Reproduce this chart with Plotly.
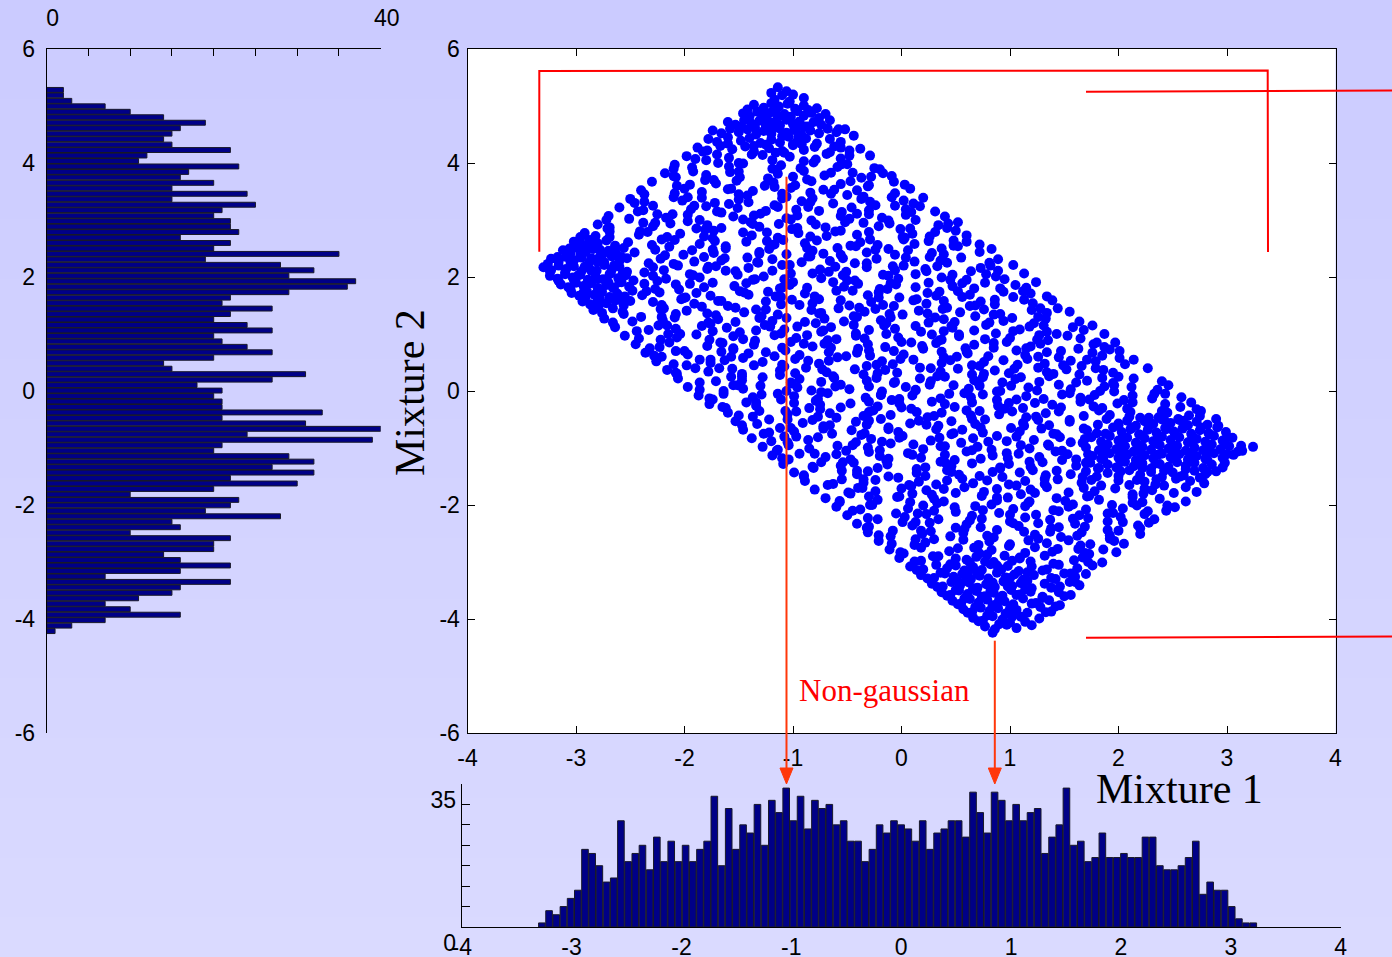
import plotly.graph_objects as go

W, H = 1392, 957


def fx(px):
    return px / W


def fy(py):
    return 1 - py / H


# ---- Histogram of mixture 1 (bottom panel): 100 equal bins ----
mix1_bin_start = -3.303
mix1_bin_width = 0.0654
mix1_counts = [
    1, 4, 3, 5, 7, 9, 19, 18, 15, 11,
    12, 26, 16, 18, 20, 14, 22, 16, 21, 16,
    20, 16, 19, 21, 32, 15, 29, 19, 25, 23,
    30, 20, 31, 28, 34, 26, 32, 24, 31, 29,
    30, 25, 26, 21, 21, 16, 19, 25, 23, 26,
    25, 24, 21, 26, 19, 23, 24, 26, 26, 22,
    33, 28, 23, 33, 31, 26, 30, 26, 28, 29,
    18, 22, 25, 34, 20, 21, 16, 17, 23, 17,
    17, 18, 17, 17, 22, 22, 15, 14, 14, 15,
    17, 21, 8, 11, 9, 9, 5, 2, 1, 1,
]

# ---- Histogram of mixture 2 (left panel): 100 equal bins, top bin first ----
mix2_bin_top = 5.33
mix2_bin_width = 0.0959
mix2_counts = [
    2, 2, 3, 7, 10, 14, 19, 16, 15, 14,
    15, 22, 12, 11, 23, 17, 16, 20, 15, 24,
    15, 25, 21, 20, 22, 22, 23, 16, 22, 20,
    35, 19, 28, 32, 29, 37, 36, 29, 22, 21,
    27, 22, 20, 24, 27, 20, 21, 24, 27, 20,
    14, 15, 31, 27, 18, 21, 20, 21, 21, 33,
    21, 31, 40, 24, 39, 21, 20, 29, 32, 27,
    32, 22, 30, 20, 10, 23, 22, 19, 28, 15,
    16, 10, 22, 20, 20, 14, 16, 22, 16, 7,
    22, 16, 15, 11, 7, 10, 16, 7, 3, 1,
]

# ---- Scatter of the two mixtures, listed band by band ----
mixture1_rows = [
    [-1.14, -1.06],
    [-1.17, -1.1, -1.03, -0.9],
    [-1.36, -1.27, -1.2, -1.13, -1.05, -0.98, -0.9, -0.78],
    [-1.46, -1.4, -1.33, -1.27, -1.2, -1.14, -1.08, -1.02, -0.96, -0.9, -0.83, -0.76, -0.7, -1.24, -1.05],
    [-1.6, -1.53, -1.45, -1.38, -1.31, -1.25, -1.18, -1.12, -1.06, -1.0, -0.94, -0.88, -0.81, -0.74, -0.66, -1.35, -1.15, -0.97, -0.85],
    [-1.74, -1.66, -1.58, -1.5, -1.42, -1.34, -1.27, -1.2, -1.13, -1.06, -0.99, -0.92, -0.84, -0.76, -0.68, -0.6, -0.52, -1.1, -0.95],
    [-1.78, -1.7, -1.6, -1.48, -1.4, -1.3, -1.2, -1.12, -1.04, -0.96, -0.88, -0.78, -0.66, -0.56, -0.44, -1.25, -1.0],
    [-1.88, -1.79, -1.67, -1.56, -1.44, -1.36, -1.22, -1.1, -1.0, -0.9, -0.8, -0.66, -0.56, -0.48, -0.38, -1.16],
    [-1.98, -1.9, -1.7, -1.59, -1.28, -1.19, -1.03, -0.79, -0.69, -0.56, -0.29],
    [-2.09, -1.93, -1.69, -1.59, -1.46, -1.19, -1.11, -0.93, -0.81, -0.59, -0.5, -0.2],
    [-2.18, -2.1, -1.92, -1.8, -1.58, -1.49, -1.14, -1.0, -0.9, -0.71, -0.45, -0.37, -0.17, -0.09],
    [-2.3, -1.95, -1.81, -1.71, -1.52, -1.26, -1.18, -0.98, -0.87, -0.56, -0.47, -0.31, -0.07, 0.03],
    [-2.4, -2.09, -2.0, -1.84, -1.6, -1.5, -1.37, -1.1, -1.02, -0.84, -0.72, -0.5, -0.41, -0.06, 0.08],
    [-2.5, -2.37, -2.1, -2.02, -1.84, -1.72, -1.5, -1.41, -1.06, -0.92, -0.82, -0.63, -0.37, -0.29, -0.09, 0.02, 0.2],
    [-2.6, -2.38, -2.29, -1.94, -1.8, -1.7, -1.51, -1.25, -1.17, -0.97, -0.86, -0.55, -0.46, -0.3, -0.06, 0.04, 0.17, 0.31],
    [-2.7, -2.51, -2.25, -2.17, -1.97, -1.86, -1.55, -1.46, -1.3, -1.06, -0.96, -0.83, -0.56, -0.48, -0.3, -0.18, 0.04, 0.13, 0.4],
    [-2.8, -2.69, -2.38, -2.29, -2.13, -1.89, -1.79, -1.66, -1.39, -1.31, -1.13, -1.01, -0.79, -0.7, -0.35, -0.21, -0.11, 0.08, 0.34, 0.42, 0.52],
    [-2.92, -2.82, -2.69, -2.42, -2.34, -2.16, -2.04, -1.82, -1.73, -1.38, -1.24, -1.14, -0.95, -0.69, -0.61, -0.41, -0.3, 0.01, 0.1, 0.26, 0.5, 0.6],
    [-3.02, -2.95, -2.88, -2.8, -2.72, -2.64, -2.52, -2.3, -2.21, -1.86, -1.72, -1.62, -1.43, -1.17, -1.09, -0.89, -0.78, -0.47, -0.38, -0.22, 0.02, 0.12, 0.25, 0.52, 0.6, 0.72],
    [-3.12, -3.05, -2.98, -2.91, -2.84, -2.77, -2.7, -2.63, -2.56, -2.46, -2.27, -2.01, -1.93, -1.73, -1.62, -1.31, -1.22, -1.06, -0.82, -0.72, -0.59, -0.32, -0.24, -0.06, 0.06, 0.28, 0.37, 0.72, 0.83],
    [-3.23, -3.16, -3.09, -3.02, -2.95, -2.88, -2.81, -2.74, -2.67, -2.6, -2.53, -2.33, -2.22, -1.91, -1.82, -1.66, -1.42, -1.32, -1.19, -0.92, -0.84, -0.66, -0.54, -0.32, -0.23, 0.12, 0.26, 0.36, 0.55, 0.81, 0.89],
    [-3.3, -3.23, -3.16, -3.09, -3.02, -2.95, -2.88, -2.81, -2.74, -2.67, -2.6, -2.53, -2.29, -2.19, -2.06, -1.79, -1.71, -1.53, -1.41, -1.19, -1.1, -0.75, -0.61, -0.51, -0.32, -0.06, 0.02, 0.22, 0.33, 0.64, 0.73, 0.89, 1.03],
    [-3.24, -3.17, -3.1, -3.03, -2.96, -2.89, -2.82, -2.75, -2.68, -2.61, -2.54, -2.47, -2.29, -2.17, -1.95, -1.86, -1.51, -1.37, -1.27, -1.08, -0.82, -0.74, -0.54, -0.43, -0.12, -0.03, 0.13, 0.37, 0.47, 0.6, 0.87, 0.95, 1.13],
    [-3.14, -3.07, -3.0, -2.93, -2.86, -2.79, -2.72, -2.65, -2.58, -2.51, -2.37, -2.27, -2.08, -1.82, -1.74, -1.54, -1.43, -1.12, -1.03, -0.87, -0.63, -0.53, -0.4, -0.13, -0.05, 0.13, 0.25, 0.47, 0.56, 0.91, 1.05, 1.15, 1.24],
    [-3.04, -2.97, -2.9, -2.83, -2.76, -2.69, -2.62, -2.55, -2.48, -2.39, -2.23, -1.99, -1.89, -1.76, -1.49, -1.41, -1.23, -1.11, -0.89, -0.8, -0.45, -0.31, -0.21, -0.02, 0.24, 0.32, 0.52, 0.63, 0.94, 1.03, 1.19, 1.34],
    [-2.94, -2.87, -2.8, -2.72, -2.64, -2.56, -2.29, -2.21, -2.03, -1.91, -1.69, -1.6, -1.25, -1.11, -1.01, -0.82, -0.56, -0.48, -0.28, -0.17, 0.14, 0.23, 0.39, 0.63, 0.73, 0.86, 1.13, 1.21, 1.39],
    [-2.84, -2.76, -2.66, -2.57, -2.22, -2.08, -1.98, -1.79, -1.53, -1.45, -1.25, -1.14, -0.83, -0.74, -0.58, -0.34, -0.24, -0.11, 0.16, 0.24, 0.42, 0.54, 0.76, 0.85, 1.2, 1.34, 1.44, 1.55],
    [-2.74, -2.48, -2.4, -2.2, -2.09, -1.78, -1.69, -1.53, -1.29, -1.19, -1.06, -0.79, -0.71, -0.53, -0.41, -0.19, -0.1, 0.25, 0.39, 0.49, 0.68, 0.94, 1.02, 1.22, 1.33, 1.64],
    [-2.64, -2.33, -2.24, -2.08, -1.84, -1.74, -1.61, -1.34, -1.26, -1.08, -0.96, -0.74, -0.65, -0.3, -0.16, -0.06, 0.13, 0.39, 0.47, 0.67, 0.78, 1.09, 1.18, 1.34, 1.58, 1.68, 1.76],
    [-2.55, -2.42, -2.15, -2.07, -1.89, -1.77, -1.55, -1.46, -1.11, -0.97, -0.87, -0.68, -0.42, -0.34, -0.14, -0.03, 0.28, 0.37, 0.53, 0.77, 0.87, 1.0, 1.27, 1.35, 1.53, 1.65, 1.87],
    [-2.45, -2.23, -2.14, -1.79, -1.65, -1.55, -1.36, -1.1, -1.02, -0.82, -0.71, -0.4, -0.31, -0.15, 0.09, 0.19, 0.32, 0.59, 0.67, 0.85, 0.97, 1.19, 1.28, 1.63, 1.77, 1.87, 1.97],
    [-2.36, -2.28, -2.08, -1.97, -1.66, -1.57, -1.41, -1.17, -1.07, -0.94, -0.67, -0.59, -0.41, -0.29, -0.07, 0.02, 0.37, 0.51, 0.61, 0.8, 1.06, 1.14, 1.34, 1.45, 1.76, 1.85, 2.01],
    [-2.26, -2.1, -1.86, -1.76, -1.63, -1.36, -1.28, -1.1, -0.98, -0.76, -0.67, -0.32, -0.18, -0.08, 0.11, 0.37, 0.45, 0.65, 0.76, 1.07, 1.16, 1.32, 1.56, 1.66, 1.79, 2.06, 2.14],
    [-2.16, -2.08, -1.9, -1.78, -1.56, -1.47, -1.12, -0.98, -0.88, -0.69, -0.43, -0.35, -0.15, -0.04, 0.27, 0.36, 0.52, 0.76, 0.86, 0.99, 1.26, 1.34, 1.52, 1.64, 1.86, 1.95, 2.27],
    [-2.06, -1.71, -1.57, -1.47, -1.28, -1.02, -0.94, -0.74, -0.63, -0.32, -0.23, -0.07, 0.17, 0.27, 0.4, 0.67, 0.75, 0.93, 1.05, 1.27, 1.36, 1.71, 1.85, 1.95, 2.14, 2.4],
    [-1.97, -1.86, -1.55, -1.46, -1.3, -1.06, -0.96, -0.83, -0.56, -0.48, -0.3, -0.18, 0.04, 0.13, 0.48, 0.62, 0.72, 0.91, 1.17, 1.25, 1.45, 1.56, 1.87, 1.96, 2.12, 2.36, 2.46],
    [-1.87, -1.77, -1.64, -1.37, -1.29, -1.11, -0.99, -0.77, -0.68, -0.33, -0.19, -0.09, 0.1, 0.36, 0.44, 0.64, 0.75, 1.06, 1.15, 1.31, 1.55, 1.65, 1.78, 2.05, 2.13, 2.31, 2.43, 2.58],
    [-1.77, -1.65, -1.43, -1.34, -0.99, -0.85, -0.75, -0.56, -0.3, -0.22, -0.02, 0.09, 0.4, 0.49, 0.65, 0.89, 0.99, 1.12, 1.39, 1.47, 1.65, 1.77, 1.99, 2.08, 2.43, 2.57, 2.67],
    [-1.6, -1.5, -1.31, -1.05, -0.97, -0.77, -0.66, -0.35, -0.26, -0.1, 0.14, 0.24, 0.37, 0.64, 0.72, 0.9, 1.02, 1.24, 1.33, 1.68, 1.82, 1.92, 2.11, 2.37, 2.45, 2.65, 2.76, 2.2, 2.55],
    [-1.53, -1.33, -1.22, -0.91, -0.82, -0.66, -0.42, -0.32, -0.19, 0.08, 0.16, 0.34, 0.46, 0.68, 0.77, 1.12, 1.26, 1.36, 1.55, 1.81, 1.89, 2.0, 2.08, 2.16, 2.24, 2.32, 2.4, 2.48, 2.56, 2.64, 2.72, 2.82, 2.9],
    [-1.46, -1.22, -1.12, -0.99, -0.72, -0.64, -0.46, -0.34, -0.12, -0.03, 0.32, 0.46, 0.56, 0.75, 1.01, 1.09, 1.29, 1.4, 1.71, 1.8, 1.95, 2.03, 2.11, 2.19, 2.27, 2.35, 2.43, 2.51, 2.59, 2.67, 2.75, 2.83, 2.91, 2.99],
    [-1.38, -1.2, -1.08, -0.86, -0.77, -0.42, -0.28, -0.18, 0.01, 0.27, 0.35, 0.55, 0.66, 0.97, 1.06, 1.22, 1.46, 1.56, 1.69, 1.84, 1.92, 2.0, 2.08, 2.16, 2.24, 2.32, 2.4, 2.48, 2.56, 2.64, 2.72, 2.8, 2.88, 2.96, 3.05],
    [-1.28, -1.14, -1.04, -0.85, -0.59, -0.51, -0.31, -0.2, 0.11, 0.2, 0.36, 0.6, 0.7, 0.83, 1.1, 1.18, 1.36, 1.48, 1.7, 1.82, 1.9, 1.98, 2.06, 2.14, 2.22, 2.3, 2.38, 2.46, 2.54, 2.62, 2.7, 2.78, 2.86, 2.94, 3.02, 3.1, 3.24],
    [-1.19, -1.1, -0.94, -0.7, -0.6, -0.47, -0.2, -0.12, 0.06, 0.18, 0.4, 0.49, 0.84, 0.98, 1.08, 1.27, 1.53, 1.61, 1.76, 1.84, 1.92, 2.0, 2.08, 2.16, 2.24, 2.32, 2.4, 2.48, 2.56, 2.64, 2.72, 2.8, 2.88, 2.96, 3.06],
    [-1.09, -0.82, -0.74, -0.56, -0.44, -0.22, -0.13, 0.22, 0.36, 0.46, 0.65, 0.91, 0.99, 1.19, 1.3, 1.61, 1.74, 1.82, 1.9, 1.98, 2.06, 2.14, 2.22, 2.3, 2.38, 2.46, 2.54, 2.62, 2.7, 2.78, 2.86, 2.96],
    [-0.99, -0.9, -0.55, -0.41, -0.31, -0.12, 0.14, 0.22, 0.42, 0.53, 0.84, 0.93, 1.09, 1.33, 1.43, 1.56, 1.7, 1.8, 1.9, 2.0, 2.1, 2.2, 2.3, 2.4, 2.5, 2.6, 2.7, 2.8, 2.9],
    [-0.89, -0.63, -0.55, -0.35, -0.24, 0.07, 0.16, 0.32, 0.56, 0.66, 0.79, 1.06, 1.14, 1.32, 1.44, 1.66, 1.75, 2.1, 2.24, 2.34, 2.53, 2.79, 2.0, 2.42, 2.66],
    [-0.8, -0.49, -0.4, -0.24, 0.0, 0.1, 0.23, 0.5, 0.58, 0.76, 0.88, 1.1, 1.19, 1.54, 1.68, 1.78, 1.97, 2.23, 2.31, 2.51, 2.62, 2.72],
    [-0.7, -0.57, -0.3, -0.22, -0.04, 0.08, 0.3, 0.39, 0.74, 0.88, 0.98, 1.17, 1.43, 1.51, 1.71, 1.82, 2.13, 2.22, 2.38, 2.62],
    [-0.6, -0.38, -0.29, 0.06, 0.2, 0.3, 0.49, 0.75, 0.83, 1.03, 1.14, 1.45, 1.54, 1.7, 1.94, 2.04, 2.17, 2.44, 2.52],
    [-0.5, -0.31, -0.05, 0.03, 0.23, 0.34, 0.65, 0.74, 0.9, 1.14, 1.24, 1.37, 1.64, 1.72, 1.9, 2.02, 2.24, 2.33],
    [-0.41, -0.3, 0.01, 0.1, 0.26, 0.5, 0.6, 0.73, 1.0, 1.08, 1.26, 1.38, 1.6, 1.69, 2.04, 2.18, 2.28],
    [-0.31, -0.21, -0.08, 0.19, 0.27, 0.45, 0.57, 0.79, 0.88, 1.23, 1.37, 1.47, 1.66, 1.92, 2.0, 2.2],
    [-0.21, -0.09, 0.13, 0.22, 0.57, 0.71, 0.81, 1.0, 1.26, 1.34, 1.54, 1.65, 1.96, 2.05],
    [-0.11, -0.01, 0.18, 0.44, 0.52, 0.72, 0.83, 1.14, 1.23, 1.39, 1.63, 1.73, 1.86, 1.98],
    [-0.02, 0.18, 0.29, 0.6, 0.69, 0.85, 1.09, 1.19, 1.32, 1.59, 1.67, 1.85, 0.5, 0.77, 0.95],
    [0.08, 0.2, 0.32, 0.42, 0.5, 0.58, 0.66, 0.74, 0.82, 0.9, 0.98, 1.08, 1.2, 1.34, 1.45, 1.62, 1.76],
    [0.18, 0.3, 0.4, 0.48, 0.56, 0.64, 0.72, 0.8, 0.88, 0.96, 1.04, 1.12, 1.22, 1.38, 1.5, 1.6, 1.7],
    [0.28, 0.38, 0.46, 0.54, 0.62, 0.7, 0.78, 0.86, 0.94, 1.02, 1.1, 1.2, 1.32, 1.46, 1.55, 1.64],
    [0.37, 0.45, 0.53, 0.61, 0.69, 0.77, 0.85, 0.93, 1.01, 1.09, 1.19, 1.3, 1.45, 1.56],
    [0.47, 0.55, 0.63, 0.71, 0.79, 0.87, 0.95, 1.03, 1.12, 1.24, 1.36, 1.46],
    [0.57, 0.65, 0.73, 0.81, 0.89, 0.97, 1.06, 1.16, 1.28, 1.38],
    [0.66, 0.75, 0.84, 0.93, 1.02, 1.14, 1.27],
    [0.77, 0.86, 0.97, 1.06],
    [0.84],
    # in-between bands
    [-1.2, -1.0],
    [-1.42, -1.16, -0.86],
    [-1.48, -1.2, -0.9, -0.58],
    [-1.6, -1.36, -0.92, -0.62],
    [-1.83, -1.38, -1.08, -0.48],
    [-1.8, -1.5, -0.9, -0.55],
    [-2.1, -1.5, -1.15, -0.65, -0.25],
    [-2.08, -1.73, -1.23, -0.83, -0.28],
    [-2.07, -1.57, -1.17, -0.62, -0.3],
    [-2.37, -1.97, -1.42, -1.1, -0.65, -0.35],
    [-2.46, -1.91, -1.59, -1.14, -0.84, -0.24, 0.11],
    [-2.43, -2.11, -1.66, -1.36, -0.76, -0.41, 0.09],
    [-2.72, -2.27, -1.97, -1.37, -1.02, -0.52, -0.12, 0.43],
    [-2.71, -2.41, -1.81, -1.46, -0.96, -0.56, -0.01, 0.31],
    [-2.69, -2.09, -1.74, -1.24, -0.84, -0.29, 0.03, 0.48, -2.96, -2.85],
    [-2.99, -2.64, -2.14, -1.74, -1.19, -0.87, -0.42, -0.12, 0.48, -3.06, -2.88, -2.78],
    [-3.08, -2.58, -2.18, -1.63, -1.31, -0.86, -0.56, 0.04, 0.39, -3.17, -2.96, -2.86, -2.75],
    [-3.05, -2.65, -2.1, -1.78, -1.33, -1.03, -0.43, -0.08, 0.42, 0.82, -3.26, -2.92, -2.8],
    [-3.24, -2.69, -2.37, -1.92, -1.62, -1.02, -0.67, -0.17, 0.23, 0.78, -3.1, -2.98, -2.86, -2.57],
    [-3.02, -2.7, -2.25, -1.95, -1.35, -1.0, -0.5, -0.1, 0.45, 0.77, -3.16, -2.9, -2.8, -2.6],
    [-2.8, -2.35, -2.05, -1.45, -1.1, -0.6, -0.2, 0.35, 0.67, 1.12, -3.05, -2.93, -2.66],
    [-2.91, -2.61, -2.01, -1.66, -1.16, -0.76, -0.21, 0.11, 0.56, 0.86, -2.78, -2.5],
    [-2.79, -2.19, -1.84, -1.34, -0.94, -0.39, -0.07, 0.38, 0.68, 1.28],
    [-2.56, -2.21, -1.71, -1.31, -0.76, -0.44, 0.01, 0.31, 0.91, 1.26],
    [-2.66, -2.16, -1.76, -1.21, -0.89, -0.44, -0.14, 0.46, 0.81, 1.31],
    [-2.44, -2.04, -1.49, -1.17, -0.72, -0.42, 0.18, 0.53, 1.03, 1.43],
    [-2.22, -1.67, -1.35, -0.9, -0.6, 0.0, 0.35, 0.85, 1.25, 1.8],
    [-2.32, -2.0, -1.55, -1.25, -0.65, -0.3, 0.2, 0.6, 1.15, 1.47, 1.92],
    [-2.21, -1.76, -1.46, -0.86, -0.51, -0.01, 0.39, 0.94, 1.26, 1.71, 2.01],
    [-1.98, -1.68, -1.08, -0.73, -0.23, 0.17, 0.72, 1.04, 1.49, 1.79],
    [-2.07, -1.47, -1.12, -0.62, -0.22, 0.33, 0.65, 1.1, 1.4, 2.0],
    [-1.86, -1.51, -1.01, -0.61, -0.06, 0.26, 0.71, 1.01, 1.61, 1.96],
    [-1.64, -1.14, -0.74, -0.19, 0.13, 0.58, 0.88, 1.48, 1.83, 2.33],
    [-1.74, -1.34, -0.79, -0.47, -0.02, 0.28, 0.88, 1.23, 1.73, 2.13],
    [-1.62, -1.07, -0.75, -0.3, 0.0, 0.6, 0.95, 1.45, 1.85, 2.4, 2.72],
    [-1.37, -1.05, -0.6, -0.3, 0.3, 0.65, 1.15, 1.55, 2.1, 2.42, 2.28, 2.6, 2.75],
    [-1.47, -1.02, -0.72, -0.12, 0.23, 0.73, 1.13, 1.68, 2.0, 2.12, 2.28, 2.44, 2.6, 2.76, 2.92],
    [-1.27, -0.97, -0.37, -0.02, 0.48, 0.88, 1.43, 1.75, 1.88, 2.04, 2.2, 2.36, 2.52, 2.68, 2.84, 3.0],
    [-1.05, -0.45, -0.1, 0.4, 0.8, 1.35, 1.67, 1.86, 2.02, 2.18, 2.34, 2.5, 2.66, 2.82, 2.98, 3.13],
    [-1.15, -0.8, -0.3, 0.1, 0.65, 0.97, 1.42, 1.72, 1.88, 2.04, 2.2, 2.36, 2.52, 2.68, 2.84, 3.0, 3.14],
    [-1.04, -0.54, -0.14, 0.41, 0.73, 1.18, 1.48, 1.7, 1.86, 2.02, 2.18, 2.34, 2.5, 2.66, 2.82, 2.98],
    [-0.81, -0.41, 0.14, 0.46, 0.91, 1.21, 1.81, 2.02, 2.22, 2.42, 2.62, 2.82],
    [-0.9, -0.35, -0.03, 0.42, 0.72, 1.32, 1.67, 2.17, 2.57, 2.35, 2.75],
    [-0.68, -0.36, 0.09, 0.39, 0.99, 1.34, 1.84, 2.24],
    [-0.47, -0.02, 0.28, 0.88, 1.23, 1.73, 2.13],
    [-0.57, -0.27, 0.33, 0.68, 1.18, 1.58, 2.13, 2.45],
    [-0.45, 0.15, 0.5, 1.0, 1.4, 1.95, 2.27],
    [-0.22, 0.13, 0.63, 1.03, 1.58, 1.9],
    [-0.32, 0.18, 0.58, 1.13, 1.45, 1.9, 2.2],
    [-0.1, 0.3, 0.85, 1.17, 1.62, 1.92],
    [0.12, 0.67, 0.99, 1.44, 1.74],
    [0.02, 0.34, 0.79, 1.09, 1.69],
    [0.12, 0.45, 0.63, 0.88, 1.02, 1.4, 1.72],
    [0.14, 0.36, 0.62, 0.7, 0.92, 1.16, 1.3, 1.56],
    [0.24, 0.52, 0.6, 0.84, 1.0, 1.16, 1.42, 1.6],
    [0.33, 0.5, 0.66, 0.82, 0.98, 1.14, 1.38],
    [0.42, 0.58, 0.74, 0.9, 1.06, 1.3, 1.5],
    [0.52, 0.68, 0.84, 1.0, 1.2, 1.42],
    [0.61, 0.79, 0.96, 1.1, 1.33],
    [0.71, 0.9, 1.0, 1.2],
]

mixture2_rows = [
    [5.33, 5.26],
    [5.11, 5.19, 5.08, 5.14],
    [5.02, 4.97, 5.05, 4.99, 5.04, 4.95, 5.01, 4.96],
    [4.87, 4.82, 4.9, 4.84, 4.89, 4.8, 4.86, 4.81, 4.91, 4.83, 4.88, 4.79, 4.86, 4.77, 4.78],
    [4.72, 4.67, 4.75, 4.69, 4.74, 4.65, 4.71, 4.66, 4.76, 4.68, 4.73, 4.64, 4.72, 4.67, 4.75, 4.62, 4.63, 4.61, 4.64],
    [4.57, 4.52, 4.6, 4.54, 4.59, 4.5, 4.56, 4.51, 4.61, 4.53, 4.58, 4.49, 4.57, 4.52, 4.6, 4.54, 4.59, 4.47, 4.46],
    [4.42, 4.37, 4.45, 4.39, 4.44, 4.35, 4.41, 4.36, 4.46, 4.38, 4.43, 4.34, 4.42, 4.37, 4.48, 4.32, 4.33],
    [4.27, 4.22, 4.3, 4.24, 4.29, 4.2, 4.26, 4.21, 4.31, 4.23, 4.28, 4.19, 4.27, 4.22, 4.25, 4.18],
    [4.12, 4.07, 4.15, 4.09, 4.14, 4.05, 4.11, 4.06, 4.16, 4.08, 4.13],
    [3.97, 3.92, 4.0, 3.94, 3.99, 3.9, 3.96, 3.91, 4.01, 3.93, 3.98, 3.89],
    [3.82, 3.77, 3.85, 3.79, 3.84, 3.75, 3.81, 3.76, 3.86, 3.78, 3.83, 3.74, 3.82, 3.77],
    [3.67, 3.62, 3.7, 3.64, 3.69, 3.6, 3.66, 3.61, 3.71, 3.63, 3.68, 3.59, 3.67, 3.62],
    [3.52, 3.47, 3.55, 3.49, 3.54, 3.45, 3.51, 3.46, 3.56, 3.48, 3.53, 3.44, 3.52, 3.47, 3.55],
    [3.37, 3.32, 3.4, 3.34, 3.39, 3.3, 3.36, 3.31, 3.41, 3.33, 3.38, 3.29, 3.37, 3.32, 3.4, 3.34, 3.39],
    [3.22, 3.17, 3.25, 3.19, 3.24, 3.15, 3.21, 3.16, 3.26, 3.18, 3.23, 3.14, 3.22, 3.17, 3.25, 3.19, 3.24, 3.15],
    [3.07, 3.02, 3.1, 3.04, 3.09, 3.0, 3.06, 3.01, 3.11, 3.03, 3.08, 2.99, 3.07, 3.02, 3.1, 3.04, 3.09, 3.0, 3.06],
    [2.92, 2.87, 2.95, 2.89, 2.94, 2.85, 2.91, 2.86, 2.96, 2.88, 2.93, 2.84, 2.92, 2.87, 2.95, 2.89, 2.94, 2.85, 2.91, 2.86, 2.96],
    [2.77, 2.72, 2.8, 2.74, 2.79, 2.7, 2.76, 2.71, 2.81, 2.73, 2.78, 2.69, 2.77, 2.72, 2.8, 2.74, 2.79, 2.7, 2.76, 2.71, 2.81, 2.73],
    [2.62, 2.57, 2.65, 2.59, 2.64, 2.55, 2.61, 2.56, 2.66, 2.58, 2.63, 2.54, 2.62, 2.57, 2.65, 2.59, 2.64, 2.55, 2.61, 2.56, 2.66, 2.58, 2.63, 2.54, 2.62, 2.57],
    [2.47, 2.42, 2.5, 2.44, 2.49, 2.4, 2.46, 2.41, 2.51, 2.43, 2.48, 2.39, 2.47, 2.42, 2.5, 2.44, 2.49, 2.4, 2.46, 2.41, 2.51, 2.43, 2.48, 2.39, 2.47, 2.42, 2.5, 2.44, 2.49],
    [2.32, 2.27, 2.35, 2.29, 2.34, 2.25, 2.31, 2.26, 2.36, 2.28, 2.33, 2.24, 2.32, 2.27, 2.35, 2.29, 2.34, 2.25, 2.31, 2.26, 2.36, 2.28, 2.33, 2.24, 2.32, 2.27, 2.35, 2.29, 2.34, 2.25, 2.31],
    [2.17, 2.12, 2.2, 2.14, 2.19, 2.1, 2.16, 2.11, 2.21, 2.13, 2.18, 2.09, 2.17, 2.12, 2.2, 2.14, 2.19, 2.1, 2.16, 2.11, 2.21, 2.13, 2.18, 2.09, 2.17, 2.12, 2.2, 2.14, 2.19, 2.1, 2.16, 2.11, 2.21],
    [2.02, 1.97, 2.05, 1.99, 2.04, 1.95, 2.01, 1.96, 2.06, 1.98, 2.03, 1.94, 2.02, 1.97, 2.05, 1.99, 2.04, 1.95, 2.01, 1.96, 2.06, 1.98, 2.03, 1.94, 2.02, 1.97, 2.05, 1.99, 2.04, 1.95, 2.01, 1.96, 2.06],
    [1.87, 1.82, 1.9, 1.84, 1.89, 1.8, 1.86, 1.81, 1.91, 1.83, 1.88, 1.79, 1.87, 1.82, 1.9, 1.84, 1.89, 1.8, 1.86, 1.81, 1.91, 1.83, 1.88, 1.79, 1.87, 1.82, 1.9, 1.84, 1.89, 1.8, 1.86, 1.81, 1.91],
    [1.72, 1.67, 1.75, 1.69, 1.74, 1.65, 1.71, 1.66, 1.76, 1.68, 1.73, 1.64, 1.72, 1.67, 1.75, 1.69, 1.74, 1.65, 1.71, 1.66, 1.76, 1.68, 1.73, 1.64, 1.72, 1.67, 1.75, 1.69, 1.74, 1.65, 1.71, 1.66],
    [1.57, 1.52, 1.6, 1.54, 1.59, 1.5, 1.56, 1.51, 1.61, 1.53, 1.58, 1.49, 1.57, 1.52, 1.6, 1.54, 1.59, 1.5, 1.56, 1.51, 1.61, 1.53, 1.58, 1.49, 1.57, 1.52, 1.6, 1.54, 1.59],
    [1.42, 1.37, 1.45, 1.39, 1.44, 1.35, 1.41, 1.36, 1.46, 1.38, 1.43, 1.34, 1.42, 1.37, 1.45, 1.39, 1.44, 1.35, 1.41, 1.36, 1.46, 1.38, 1.43, 1.34, 1.42, 1.37, 1.45, 1.39],
    [1.27, 1.22, 1.3, 1.24, 1.29, 1.2, 1.26, 1.21, 1.31, 1.23, 1.28, 1.19, 1.27, 1.22, 1.3, 1.24, 1.29, 1.2, 1.26, 1.21, 1.31, 1.23, 1.28, 1.19, 1.27, 1.22],
    [1.12, 1.07, 1.15, 1.09, 1.14, 1.05, 1.11, 1.06, 1.16, 1.08, 1.13, 1.04, 1.12, 1.07, 1.15, 1.09, 1.14, 1.05, 1.11, 1.06, 1.16, 1.08, 1.13, 1.04, 1.12, 1.07, 1.15],
    [0.97, 0.92, 1.0, 0.94, 0.99, 0.9, 0.96, 0.91, 1.01, 0.93, 0.98, 0.89, 0.97, 0.92, 1.0, 0.94, 0.99, 0.9, 0.96, 0.91, 1.01, 0.93, 0.98, 0.89, 0.97, 0.92, 1.0],
    [0.82, 0.77, 0.85, 0.79, 0.84, 0.75, 0.81, 0.76, 0.86, 0.78, 0.83, 0.74, 0.82, 0.77, 0.85, 0.79, 0.84, 0.75, 0.81, 0.76, 0.86, 0.78, 0.83, 0.74, 0.82, 0.77, 0.85],
    [0.67, 0.62, 0.7, 0.64, 0.69, 0.6, 0.66, 0.61, 0.71, 0.63, 0.68, 0.59, 0.67, 0.62, 0.7, 0.64, 0.69, 0.6, 0.66, 0.61, 0.71, 0.63, 0.68, 0.59, 0.67, 0.62, 0.7],
    [0.52, 0.47, 0.55, 0.49, 0.54, 0.45, 0.51, 0.46, 0.56, 0.48, 0.53, 0.44, 0.52, 0.47, 0.55, 0.49, 0.54, 0.45, 0.51, 0.46, 0.56, 0.48, 0.53, 0.44, 0.52, 0.47, 0.55],
    [0.37, 0.32, 0.4, 0.34, 0.39, 0.3, 0.36, 0.31, 0.41, 0.33, 0.38, 0.29, 0.37, 0.32, 0.4, 0.34, 0.39, 0.3, 0.36, 0.31, 0.41, 0.33, 0.38, 0.29, 0.37, 0.32, 0.4],
    [0.22, 0.17, 0.25, 0.19, 0.24, 0.15, 0.21, 0.16, 0.26, 0.18, 0.23, 0.14, 0.22, 0.17, 0.25, 0.19, 0.24, 0.15, 0.21, 0.16, 0.26, 0.18, 0.23, 0.14, 0.22, 0.17],
    [0.07, 0.02, 0.1, 0.04, 0.09, 0.0, 0.06, 0.01, 0.11, 0.03, 0.08, -0.01, 0.07, 0.02, 0.1, 0.04, 0.09, 0.0, 0.06, 0.01, 0.11, 0.03, 0.08, -0.01, 0.07, 0.02, 0.1],
    [-0.08, -0.13, -0.05, -0.11, -0.06, -0.15, -0.09, -0.14, -0.04, -0.12, -0.07, -0.16, -0.08, -0.13, -0.05, -0.11, -0.06, -0.15, -0.09, -0.14, -0.04, -0.12, -0.07, -0.16, -0.08, -0.13, -0.05, -0.11],
    [-0.23, -0.28, -0.2, -0.26, -0.21, -0.3, -0.24, -0.29, -0.19, -0.27, -0.22, -0.31, -0.23, -0.28, -0.2, -0.26, -0.21, -0.3, -0.24, -0.29, -0.19, -0.27, -0.22, -0.31, -0.23, -0.28, -0.2],
    [-0.38, -0.43, -0.35, -0.41, -0.36, -0.45, -0.39, -0.44, -0.34, -0.42, -0.37, -0.46, -0.38, -0.43, -0.35, -0.41, -0.36, -0.45, -0.39, -0.44, -0.34, -0.42, -0.37, -0.46, -0.38, -0.43, -0.35, -0.47, -0.49],
    [-0.53, -0.58, -0.5, -0.56, -0.51, -0.6, -0.54, -0.59, -0.49, -0.57, -0.52, -0.61, -0.53, -0.58, -0.5, -0.56, -0.51, -0.6, -0.54, -0.59, -0.49, -0.57, -0.52, -0.61, -0.53, -0.58, -0.5, -0.56, -0.51, -0.6, -0.54, -0.59, -0.49],
    [-0.68, -0.73, -0.65, -0.71, -0.66, -0.75, -0.69, -0.74, -0.64, -0.72, -0.67, -0.76, -0.68, -0.73, -0.65, -0.71, -0.66, -0.75, -0.69, -0.74, -0.64, -0.72, -0.67, -0.76, -0.68, -0.73, -0.65, -0.71, -0.66, -0.75, -0.69, -0.74, -0.64, -0.72],
    [-0.83, -0.88, -0.8, -0.86, -0.81, -0.9, -0.84, -0.89, -0.79, -0.87, -0.82, -0.91, -0.83, -0.88, -0.8, -0.86, -0.81, -0.9, -0.84, -0.89, -0.79, -0.87, -0.82, -0.91, -0.83, -0.88, -0.8, -0.86, -0.81, -0.9, -0.84, -0.89, -0.79, -0.87, -0.82],
    [-0.98, -1.03, -0.95, -1.01, -0.96, -1.05, -0.99, -1.04, -0.94, -1.02, -0.97, -1.06, -0.98, -1.03, -0.95, -1.01, -0.96, -1.05, -0.99, -1.04, -0.94, -1.02, -0.97, -1.06, -0.98, -1.03, -0.95, -1.01, -0.96, -1.05, -0.99, -1.04, -0.94, -1.02, -0.97, -1.06, -0.98],
    [-1.13, -1.18, -1.1, -1.16, -1.11, -1.2, -1.14, -1.19, -1.09, -1.17, -1.12, -1.21, -1.13, -1.18, -1.1, -1.16, -1.11, -1.2, -1.14, -1.19, -1.09, -1.17, -1.12, -1.21, -1.13, -1.18, -1.1, -1.16, -1.11, -1.2, -1.14, -1.19, -1.09, -1.17, -1.12],
    [-1.28, -1.33, -1.25, -1.31, -1.26, -1.35, -1.29, -1.34, -1.24, -1.32, -1.27, -1.36, -1.28, -1.33, -1.25, -1.31, -1.26, -1.35, -1.29, -1.34, -1.24, -1.32, -1.27, -1.36, -1.28, -1.33, -1.25, -1.31, -1.26, -1.35, -1.29, -1.34],
    [-1.43, -1.48, -1.4, -1.46, -1.41, -1.5, -1.44, -1.49, -1.39, -1.47, -1.42, -1.51, -1.43, -1.48, -1.4, -1.46, -1.41, -1.5, -1.44, -1.49, -1.39, -1.47, -1.42, -1.51, -1.43, -1.48, -1.4, -1.46, -1.41],
    [-1.58, -1.63, -1.55, -1.61, -1.56, -1.65, -1.59, -1.64, -1.54, -1.62, -1.57, -1.66, -1.58, -1.63, -1.55, -1.61, -1.56, -1.65, -1.59, -1.64, -1.54, -1.62, -1.57, -1.66, -1.58],
    [-1.73, -1.78, -1.7, -1.76, -1.71, -1.8, -1.74, -1.79, -1.69, -1.77, -1.72, -1.81, -1.73, -1.78, -1.7, -1.76, -1.71, -1.8, -1.74, -1.79, -1.69, -1.77],
    [-1.88, -1.93, -1.85, -1.91, -1.86, -1.95, -1.89, -1.94, -1.84, -1.92, -1.87, -1.96, -1.88, -1.93, -1.85, -1.91, -1.86, -1.95, -1.89, -1.94],
    [-2.03, -2.08, -2.0, -2.06, -2.01, -2.1, -2.04, -2.09, -1.99, -2.07, -2.02, -2.11, -2.03, -2.08, -2.0, -2.06, -2.01, -2.1, -2.04],
    [-2.18, -2.23, -2.15, -2.21, -2.16, -2.25, -2.19, -2.24, -2.14, -2.22, -2.17, -2.26, -2.18, -2.23, -2.15, -2.21, -2.16, -2.25],
    [-2.33, -2.38, -2.3, -2.36, -2.31, -2.4, -2.34, -2.39, -2.29, -2.37, -2.32, -2.41, -2.33, -2.38, -2.3, -2.36, -2.31],
    [-2.48, -2.53, -2.45, -2.51, -2.46, -2.55, -2.49, -2.54, -2.44, -2.52, -2.47, -2.56, -2.48, -2.53, -2.45, -2.51],
    [-2.63, -2.68, -2.6, -2.66, -2.61, -2.7, -2.64, -2.69, -2.59, -2.67, -2.62, -2.71, -2.63, -2.68],
    [-2.78, -2.83, -2.75, -2.81, -2.76, -2.85, -2.79, -2.84, -2.74, -2.82, -2.77, -2.86, -2.78, -2.83],
    [-2.93, -2.98, -2.9, -2.96, -2.91, -3.0, -2.94, -2.99, -2.89, -2.97, -2.92, -3.01, -2.94, -2.99, -2.89],
    [-3.08, -3.13, -3.05, -3.11, -3.06, -3.15, -3.09, -3.14, -3.04, -3.12, -3.07, -3.16, -3.08, -3.13, -3.05, -3.11, -3.06],
    [-3.23, -3.28, -3.2, -3.26, -3.21, -3.3, -3.24, -3.29, -3.19, -3.27, -3.22, -3.31, -3.23, -3.28, -3.2, -3.26, -3.21],
    [-3.38, -3.43, -3.35, -3.41, -3.36, -3.45, -3.39, -3.44, -3.34, -3.42, -3.37, -3.46, -3.38, -3.43, -3.35, -3.41],
    [-3.53, -3.58, -3.5, -3.56, -3.51, -3.6, -3.54, -3.59, -3.49, -3.57, -3.52, -3.61, -3.53, -3.58],
    [-3.68, -3.73, -3.65, -3.71, -3.66, -3.75, -3.69, -3.74, -3.64, -3.72, -3.67, -3.76],
    [-3.83, -3.88, -3.8, -3.86, -3.81, -3.9, -3.84, -3.89, -3.79, -3.87],
    [-3.98, -4.03, -3.95, -4.01, -3.96, -4.05, -3.99],
    [-4.13, -4.18, -4.1, -4.16],
    [-4.24],
    # in-between bands
    [5.23, 5.2],
    [4.94, 4.91, 4.93],
    [4.64, 4.6, 4.63, 4.59],
    [4.34, 4.3, 4.33, 4.29],
    [4.2, 4.15, 4.18, 4.13],
    [4.05, 4.0, 4.03, 3.98],
    [3.9, 3.85, 3.88, 3.83, 3.91],
    [3.75, 3.7, 3.73, 3.68, 3.76],
    [3.6, 3.55, 3.58, 3.53, 3.61],
    [3.45, 3.4, 3.43, 3.38, 3.46, 3.41],
    [3.3, 3.25, 3.28, 3.23, 3.31, 3.26, 3.29],
    [3.15, 3.1, 3.13, 3.08, 3.16, 3.11, 3.14],
    [3.0, 2.95, 2.98, 2.93, 3.01, 2.96, 2.99, 2.94],
    [2.85, 2.8, 2.83, 2.78, 2.86, 2.81, 2.84, 2.79],
    [2.7, 2.65, 2.68, 2.63, 2.71, 2.66, 2.69, 2.64, 2.7, 2.65],
    [2.55, 2.5, 2.53, 2.48, 2.56, 2.51, 2.54, 2.49, 2.55, 2.5, 2.53, 2.48],
    [2.4, 2.35, 2.38, 2.33, 2.41, 2.36, 2.39, 2.34, 2.4, 2.35, 2.38, 2.33, 2.41],
    [2.25, 2.2, 2.23, 2.18, 2.26, 2.21, 2.24, 2.19, 2.25, 2.2, 2.23, 2.18, 2.26],
    [2.1, 2.05, 2.08, 2.03, 2.11, 2.06, 2.09, 2.04, 2.1, 2.05, 2.08, 2.03, 2.11, 2.06],
    [1.95, 1.9, 1.93, 1.88, 1.96, 1.91, 1.94, 1.89, 1.95, 1.9, 1.93, 1.88, 1.96, 1.91],
    [1.8, 1.75, 1.78, 1.73, 1.81, 1.76, 1.79, 1.74, 1.8, 1.75, 1.78, 1.73, 1.81],
    [1.65, 1.6, 1.63, 1.58, 1.66, 1.61, 1.64, 1.59, 1.65, 1.6, 1.63, 1.58],
    [1.5, 1.45, 1.48, 1.43, 1.51, 1.46, 1.49, 1.44, 1.5, 1.45],
    [1.35, 1.3, 1.33, 1.28, 1.36, 1.31, 1.34, 1.29, 1.35, 1.3],
    [1.2, 1.15, 1.18, 1.13, 1.21, 1.16, 1.19, 1.14, 1.2, 1.15],
    [1.05, 1.0, 1.03, 0.98, 1.06, 1.01, 1.04, 0.99, 1.05, 1.0],
    [0.9, 0.85, 0.88, 0.83, 0.91, 0.86, 0.89, 0.84, 0.9, 0.85],
    [0.75, 0.7, 0.73, 0.68, 0.76, 0.71, 0.74, 0.69, 0.75, 0.7, 0.73],
    [0.6, 0.55, 0.58, 0.53, 0.61, 0.56, 0.59, 0.54, 0.6, 0.55, 0.58],
    [0.45, 0.4, 0.43, 0.38, 0.46, 0.41, 0.44, 0.39, 0.45, 0.4],
    [0.3, 0.25, 0.28, 0.23, 0.31, 0.26, 0.29, 0.24, 0.3, 0.25],
    [0.15, 0.1, 0.13, 0.08, 0.16, 0.11, 0.14, 0.09, 0.15, 0.1],
    [0.0, -0.05, -0.02, -0.07, 0.01, -0.04, -0.01, -0.06, 0.0, -0.05],
    [-0.15, -0.2, -0.17, -0.22, -0.14, -0.19, -0.16, -0.21, -0.15, -0.2],
    [-0.3, -0.35, -0.32, -0.37, -0.29, -0.34, -0.31, -0.36, -0.3, -0.35, -0.32],
    [-0.45, -0.5, -0.47, -0.52, -0.44, -0.49, -0.46, -0.51, -0.45, -0.5, -0.47, -0.52, -0.44],
    [-0.6, -0.65, -0.62, -0.67, -0.59, -0.64, -0.61, -0.66, -0.6, -0.65, -0.62, -0.67, -0.59, -0.64, -0.61],
    [-0.75, -0.8, -0.77, -0.82, -0.74, -0.79, -0.76, -0.81, -0.75, -0.8, -0.77, -0.82, -0.74, -0.79, -0.76, -0.81],
    [-0.9, -0.95, -0.92, -0.97, -0.89, -0.94, -0.91, -0.96, -0.9, -0.95, -0.92, -0.97, -0.89, -0.94, -0.91, -0.96],
    [-1.05, -1.1, -1.07, -1.12, -1.04, -1.09, -1.06, -1.11, -1.05, -1.1, -1.07, -1.12, -1.04, -1.09, -1.06, -1.11, -1.05],
    [-1.2, -1.25, -1.22, -1.27, -1.19, -1.24, -1.21, -1.26, -1.2, -1.25, -1.22, -1.27, -1.19, -1.24, -1.21, -1.26],
    [-1.35, -1.4, -1.37, -1.42, -1.34, -1.39, -1.36, -1.41, -1.35, -1.4, -1.37, -1.42],
    [-1.5, -1.55, -1.52, -1.57, -1.49, -1.54, -1.51, -1.56, -1.5, -1.55, -1.52],
    [-1.65, -1.7, -1.67, -1.72, -1.64, -1.69, -1.66, -1.71],
    [-1.8, -1.85, -1.82, -1.87, -1.79, -1.84, -1.81],
    [-1.95, -2.0, -1.97, -2.02, -1.94, -1.99, -1.96, -2.01],
    [-2.1, -2.15, -2.12, -2.17, -2.09, -2.14, -2.11],
    [-2.25, -2.3, -2.27, -2.32, -2.24, -2.29],
    [-2.4, -2.45, -2.42, -2.47, -2.39, -2.44, -2.41],
    [-2.55, -2.6, -2.57, -2.62, -2.54, -2.59],
    [-2.7, -2.75, -2.72, -2.77, -2.69],
    [-2.85, -2.9, -2.87, -2.92, -2.84],
    [-2.99, -3.04, -3.01, -3.06, -2.98, -3.03, -3.0],
    [-3.14, -3.19, -3.16, -3.21, -3.13, -3.18, -3.15, -3.2],
    [-3.29, -3.34, -3.31, -3.36, -3.28, -3.33, -3.3, -3.35],
    [-3.44, -3.49, -3.46, -3.51, -3.43, -3.48, -3.45],
    [-3.59, -3.64, -3.61, -3.66, -3.58, -3.63, -3.6],
    [-3.74, -3.79, -3.76, -3.81, -3.73, -3.78],
    [-3.89, -3.94, -3.91, -3.96, -3.88],
    [-4.04, -4.09, -4.06, -4.11],
]

# Axis tick values and their printed labels
main_x_ticks = [-4, -3, -2, -1, 0, 1, 2, 3, 4]
main_x_text = ["-4", "-3", "-2", "-1", "0", "1", "2", "3", "4"]
main_y_ticks = [-6, -4, -2, 0, 2, 4, 6]
main_y_text = ["-6", "-4", "-2", "0", "2", "4", "6"]
count_x_ticks = [0, 5, 10, 15, 20, 25, 30, 35, 40]
count_x_text = ["0", "", "", "", "", "", "", "", "40"]
count_y_ticks = [0, 5, 10, 15, 20, 25, 30, 35]
count_y_text = ["0", "", "", "", "", "", "", "35"]

# Mixture-1 values of the two peaks marked by the arrows
arrow_x = [-1.06, 0.86]

# ---------------------------------------------------------------------------
mix1, mix2 = [], []
for i, (rx, ry) in enumerate(zip(mixture1_rows, mixture2_rows)):
    assert len(rx) == len(ry), f"row {i}: {len(rx)} vs {len(ry)}"
    mix1.extend(rx)
    mix2.extend(ry)
assert len(mixture1_rows) == len(mixture2_rows)

mix1_centers = [mix1_bin_start + mix1_bin_width * (i + 0.5) for i in range(len(mix1_counts))]
mix2_centers = [mix2_bin_top - mix2_bin_width * (i + 0.5) for i in range(len(mix2_counts))]

NAVY = "rgb(0,0,135)"
BAR_EDGE = "rgb(25,25,40)"
RED = "#ff0000"
ARROW = "rgb(255,55,10)"
SANS = "Liberation Sans, Arial, sans-serif"
SERIF = "Liberation Serif, Times New Roman, serif"
tick_font = dict(family=SANS, size=23, color="black")

fig = go.Figure()

fig.add_trace(go.Scatter(
    x=mix1, y=mix2, mode="markers", xaxis="x", yaxis="y",
    marker=dict(color="rgb(0,0,255)", size=10, line=dict(width=0)),
    hoverinfo="skip",
))
fig.add_trace(go.Bar(
    x=mix2_counts, y=mix2_centers, orientation="h", xaxis="x2", yaxis="y2",
    width=mix2_bin_width * 0.9,
    marker=dict(color=NAVY, line=dict(color=BAR_EDGE, width=1)),
    hoverinfo="skip",
))
fig.add_trace(go.Bar(
    x=mix1_centers, y=mix1_counts, xaxis="x3", yaxis="y3",
    width=mix1_bin_width * 0.92,
    marker=dict(color=NAVY, line=dict(color=BAR_EDGE, width=1)),
    hoverinfo="skip",
))

common = dict(showgrid=False, zeroline=False, showline=True, linecolor="black",
              linewidth=1, tickcolor="black", tickfont=tick_font, automargin=False)

fig.update_layout(
    width=W, height=H,
    margin=dict(l=0, r=0, t=0, b=0, autoexpand=False),
    paper_bgcolor="rgb(214,214,255)",
    plot_bgcolor="rgba(0,0,0,0)",
    showlegend=False,
    xaxis=dict(domain=[fx(467.5), fx(1335.5)], range=[-4, 4], anchor="y",
               tickvals=main_x_ticks, ticktext=main_x_text,
               ticks="inside", ticklen=7, mirror="ticks", ticklabelstandoff=4, **common),
    yaxis=dict(domain=[fy(733), fy(49)], range=[-6, 6], anchor="x",
               tickvals=main_y_ticks, ticktext=main_y_text,
               ticks="inside", ticklen=7, mirror="ticks", ticklabelstandoff=2, **common),
    xaxis2=dict(domain=[fx(46.7), fx(380.7)], range=[0, 40], anchor="y2", side="top",
                tickvals=count_x_ticks, ticktext=count_x_text,
                ticks="inside", ticklen=7, ticklabelshift=6, ticklabelstandoff=13, **common),
    yaxis2=dict(domain=[fy(733), fy(49)], range=[-6, 6], anchor="x2",
                tickvals=main_y_ticks, ticktext=main_y_text, ticks="",
                ticklabelstandoff=6, **common),
    xaxis3=dict(domain=[fx(461.7), fx(1340.7)], range=[-4, 4], anchor="y3",
                tickvals=main_x_ticks, ticktext=main_x_text, ticks="",
                ticklabelstandoff=-1, **common),
    yaxis3=dict(domain=[fy(927), fy(784)], range=[0, 35], anchor="x3",
                tickvals=count_y_ticks, ticktext=count_y_text,
                ticks="inside", ticklen=8, ticklabelshift=16, **common),
)

shapes = []
# soft vertical lavender gradient behind everything
top_rgb, bot_rgb = (203, 203, 255), (218, 218, 255)
n_bands = 48
for i in range(n_bands):
    t = (i + 0.5) / n_bands
    c = tuple(round(a + (b - a) * t) for a, b in zip(top_rgb, bot_rgb))
    shapes.append(dict(type="rect", xref="paper", yref="paper", layer="below",
                       x0=0, x1=1, y0=1 - (i + 1) / n_bands - 0.002, y1=1 - i / n_bands,
                       fillcolor=f"rgb{c}", line=dict(width=0)))
# white face of the scatter panel
shapes.append(dict(type="rect", xref="paper", yref="paper", layer="below",
                   x0=fx(467.5), x1=fx(1335.5), y0=fy(733), y1=fy(49),
                   fillcolor="white", line=dict(width=0)))

# red bracket over the top of the cloud and the two side marker lines
shapes.append(dict(type="path", xref="paper", yref="paper",
                   path=(f"M {fx(539.3)},{fy(251.7)} L {fx(539.3)},{fy(71)} "
                         f"L {fx(1267.7)},{fy(70.5)} L {fx(1268)},{fy(252)}"),
                   line=dict(color=RED, width=2)))
shapes.append(dict(type="line", xref="paper", yref="paper",
                   x0=fx(1086), y0=fy(91.7), x1=1, y1=fy(90.5),
                   line=dict(color=RED, width=2)))
shapes.append(dict(type="line", xref="paper", yref="paper",
                   x0=fx(1086), y0=fy(637.7), x1=1, y1=fy(636.5),
                   line=dict(color=RED, width=2)))

# arrows from the cloud down to the mixture-1 histogram peaks
arrow_tops = [176.7, 640.7]
for ax, top in zip(arrow_x, arrow_tops):
    shapes.append(dict(type="line", xref="x", yref="paper",
                       x0=ax, x1=ax, y0=fy(top), y1=fy(770),
                       line=dict(color=ARROW, width=2)))
    shapes.append(dict(type="path", xref="x", yref="paper",
                       path=(f"M {ax - 0.06},{fy(768)} L {ax + 0.06},{fy(768)} "
                             f"L {ax},{fy(784)} Z"),
                       fillcolor=ARROW, line=dict(color=ARROW, width=1)))

fig.update_layout(shapes=shapes)

fig.add_annotation(x=fx(410), y=fy(393), xref="paper", yref="paper",
                   xanchor="center", yanchor="middle",
                   text="Mixture 2", textangle=-90, showarrow=False,
                   font=dict(family=SERIF, size=42, color="black"))
fig.add_annotation(x=fx(1179), y=fy(789), xref="paper", yref="paper",
                   xanchor="center", yanchor="middle",
                   text="Mixture 1", showarrow=False,
                   font=dict(family=SERIF, size=42, color="black"))
fig.add_annotation(x=fx(884.5), y=fy(690), xref="paper", yref="paper",
                   xanchor="center", yanchor="middle",
                   text="Non-gaussian", showarrow=False,
                   font=dict(family=SERIF, size=31, color=RED))

fig.write_html("out.html")
